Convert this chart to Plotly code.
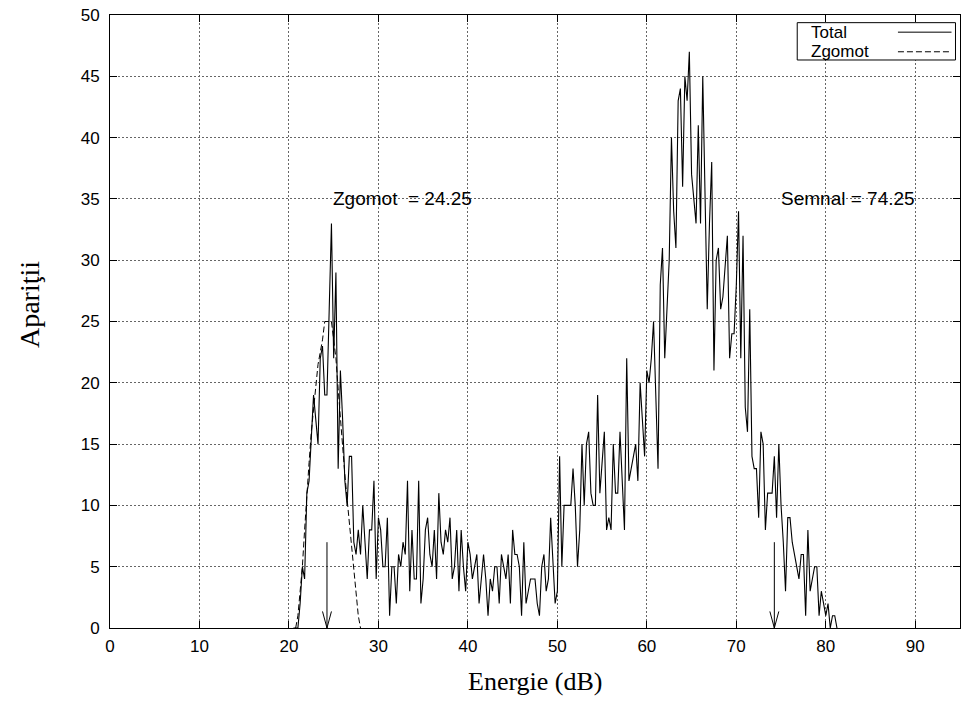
import plotly.graph_objects as go

# Histogram of frame energies (counts per 0.25 dB bin)
bin_start = 20.5
bin_width = 0.25
total_counts = [
    0, 0,                 # 20.50 - 20.75
    0, 2, 5, 4,           # 21
    11, 12, 16, 19,       # 22
    17, 15, 22, 23,       # 23
    19, 19, 26, 33,       # 24
    22, 29, 13, 21,       # 25
    17, 12, 10, 14,       # 26
    14, 7, 6, 8,          # 27
    6, 10, 7, 4,          # 28
    8, 8, 12, 4,          # 29
    9, 8, 5, 5,           # 30
    9, 1, 5, 5,           # 31
    2, 6, 5, 7,           # 32
    6, 12, 3, 8,          # 33
    4, 4, 12, 2,          # 34
    4, 8, 9, 6,           # 35
    5, 8, 4, 11,          # 36
    7, 6, 8, 7,           # 37
    9, 4, 5, 8,           # 38
    3, 8, 5, 3,           # 39
    7, 6, 4, 5,           # 40
    6, 2, 4, 6,           # 41
    4, 1, 4, 3,           # 42
    5, 5, 2, 6,           # 43
    5, 4, 6, 2,           # 44
    8, 6, 6, 5,           # 45
    1, 7, 2, 3,           # 46
    4, 4, 4, 2,           # 47
    1, 5, 6, 3,           # 48
    4, 9, 5, 2,           # 49
    3, 14, 5, 10,         # 50
    10, 10, 10, 13,       # 51
    10, 5, 8, 15,         # 52
    10, 15, 16, 11,       # 53
    10, 10, 19, 11,       # 54
    14, 16, 8, 9,         # 55
    8, 15, 11, 11,        # 56
    16, 12, 8, 22,        # 57
    12, 13, 14, 15,       # 58
    12, 20, 17, 14,       # 59
    21, 20, 22, 25,       # 60
    19, 13, 28, 31,       # 61
    22, 26, 30, 40,       # 62
    34, 31, 43, 44,       # 63
    36, 45, 43, 47,       # 64
    37, 35, 33, 41,       # 65
    33, 45, 35, 26,       # 66
    33, 38, 21, 30,       # 67
    31, 26, 27, 30,       # 68
    32, 22, 24, 24,       # 69
    28, 34, 22, 32,       # 70
    18, 16, 26, 14,       # 71
    13, 13, 9, 16,        # 72
    15, 8, 11, 11,        # 73
    11, 14, 9, 15,        # 74
    10, 7, 3, 9,          # 75
    9, 7, 6, 5,           # 76
    4, 6, 6, 1,           # 77
    8, 3, 4, 5,           # 78
    5, 1, 3, 2,           # 79
    1, 2, 0, 1,           # 80
    1, 0,                 # 81
]

# Fitted noise distribution
noise_start = 20.75
noise_fit = [
    0, 1, 3, 5, 8, 11, 13.5, 16, 18, 20, 21.5, 22.5, 23.5, 25, 25,
    25, 25, 23.5, 22, 19.5, 17, 14.5, 12.5, 10.5, 8.5, 6.5, 4.5, 2.5, 1, 0,
]

# Estimated levels
noise_level = 24.25
signal_level = 74.25
marker_height = 7
label_height = 35

x_ticks = [0, 10, 20, 30, 40, 50, 60, 70, 80, 90]
y_ticks = [0, 5, 10, 15, 20, 25, 30, 35, 40, 45, 50]

energy = [bin_start + i * bin_width for i in range(len(total_counts))]
noise_energy = [noise_start + i * bin_width for i in range(len(noise_fit))]

SANS = "Liberation Sans, Arial, sans-serif"
SERIF = "Liberation Serif, Times New Roman, serif"

fig = go.Figure()
fig.add_trace(go.Scatter(
    x=energy, y=total_counts, mode="lines", name="Total",
    line=dict(color="black", width=1.1),
))
fig.add_trace(go.Scatter(
    x=noise_energy, y=noise_fit, mode="lines", name="Zgomot",
    line=dict(color="black", width=1, dash="6px,3px"),
))

shapes = []
annotations = []

# Down arrows marking the two levels
head_dx, head_dy = 0.5, 1.35
for level in (noise_level, signal_level):
    shapes.append(dict(type="line", xref="x", yref="y",
                       x0=level, y0=marker_height, x1=level, y1=0,
                       line=dict(color="black", width=1)))
    shapes.append(dict(type="path", xref="x", yref="y",
                       path=f"M {level - head_dx},{head_dy} L {level},0 L {level + head_dx},{head_dy}",
                       line=dict(color="black", width=1)))

label_offset = 0.5
annotations.append(dict(x=noise_level + label_offset, y=label_height, xref="x", yref="y",
                        text=f"Zgomot\u00a0 = {noise_level}", showarrow=False,
                        xanchor="left", yanchor="middle",
                        font=dict(family=SANS, size=19, color="black")))
annotations.append(dict(x=signal_level + label_offset, y=label_height, xref="x", yref="y",
                        text=f"Semnal = {signal_level}", showarrow=False,
                        xanchor="left", yanchor="middle",
                        font=dict(family=SANS, size=19, color="black")))

# Key box in the upper right corner: label on the left, line sample on the right
key_x0, key_x1 = 0.8085, 0.9947
key_y0, key_y1 = 0.9266, 0.9875
shapes.append(dict(type="rect", xref="paper", yref="paper",
                   x0=key_x0, x1=key_x1, y0=key_y0, y1=key_y1,
                   line=dict(color="black", width=1), fillcolor="white", layer="above"))
key_rows = [("Total", "solid", 0.972), ("Zgomot", "6px,3px", 0.94)]
for label, dash, ky in key_rows:
    annotations.append(dict(x=0.822, y=ky, xref="paper", yref="paper", text=label,
                            showarrow=False, xanchor="left", yanchor="middle",
                            font=dict(family=SANS, size=17, color="black")))
    shapes.append(dict(type="line", xref="paper", yref="paper",
                       x0=0.927, x1=0.990, y0=ky, y1=ky,
                       line=dict(color="black", width=1, dash=dash), layer="above"))

# Axis titles
annotations.append(dict(x=0.5, y=-0.0870, xref="paper", yref="paper",
                        text="Energie (dB)", showarrow=False,
                        xanchor="center", yanchor="middle",
                        font=dict(family=SERIF, size=26, color="black")))
annotations.append(dict(x=-0.094, y=0.527, xref="paper", yref="paper",
                        text="Apari\u0163ii", showarrow=False, textangle=-90,
                        xanchor="center", yanchor="middle",
                        font=dict(family=SERIF, size=28, color="black")))

fig.update_layout(
    width=965, height=725,
    margin=dict(l=110, r=5, t=15, b=97),
    plot_bgcolor="white", paper_bgcolor="white",
    showlegend=False,
    font=dict(family=SANS, size=17, color="black"),
    shapes=shapes, annotations=annotations,
)

axis_style = dict(
    ticks="inside", ticklen=7, tickcolor="black", tickwidth=1,
    showline=True, linecolor="black", linewidth=1, mirror="ticks",
    showgrid=True, gridcolor="#666666", gridwidth=1, griddash="2px,2px",
    zeroline=False, tickfont=dict(family=SANS, size=17, color="black"),
)
fig.update_xaxes(range=[0, 95], tickvals=x_ticks, ticklabelstandoff=3, **axis_style)
fig.update_yaxes(range=[0, 50], tickvals=y_ticks, ticklabelstandoff=6, **axis_style)

fig.write_html("out.html")
